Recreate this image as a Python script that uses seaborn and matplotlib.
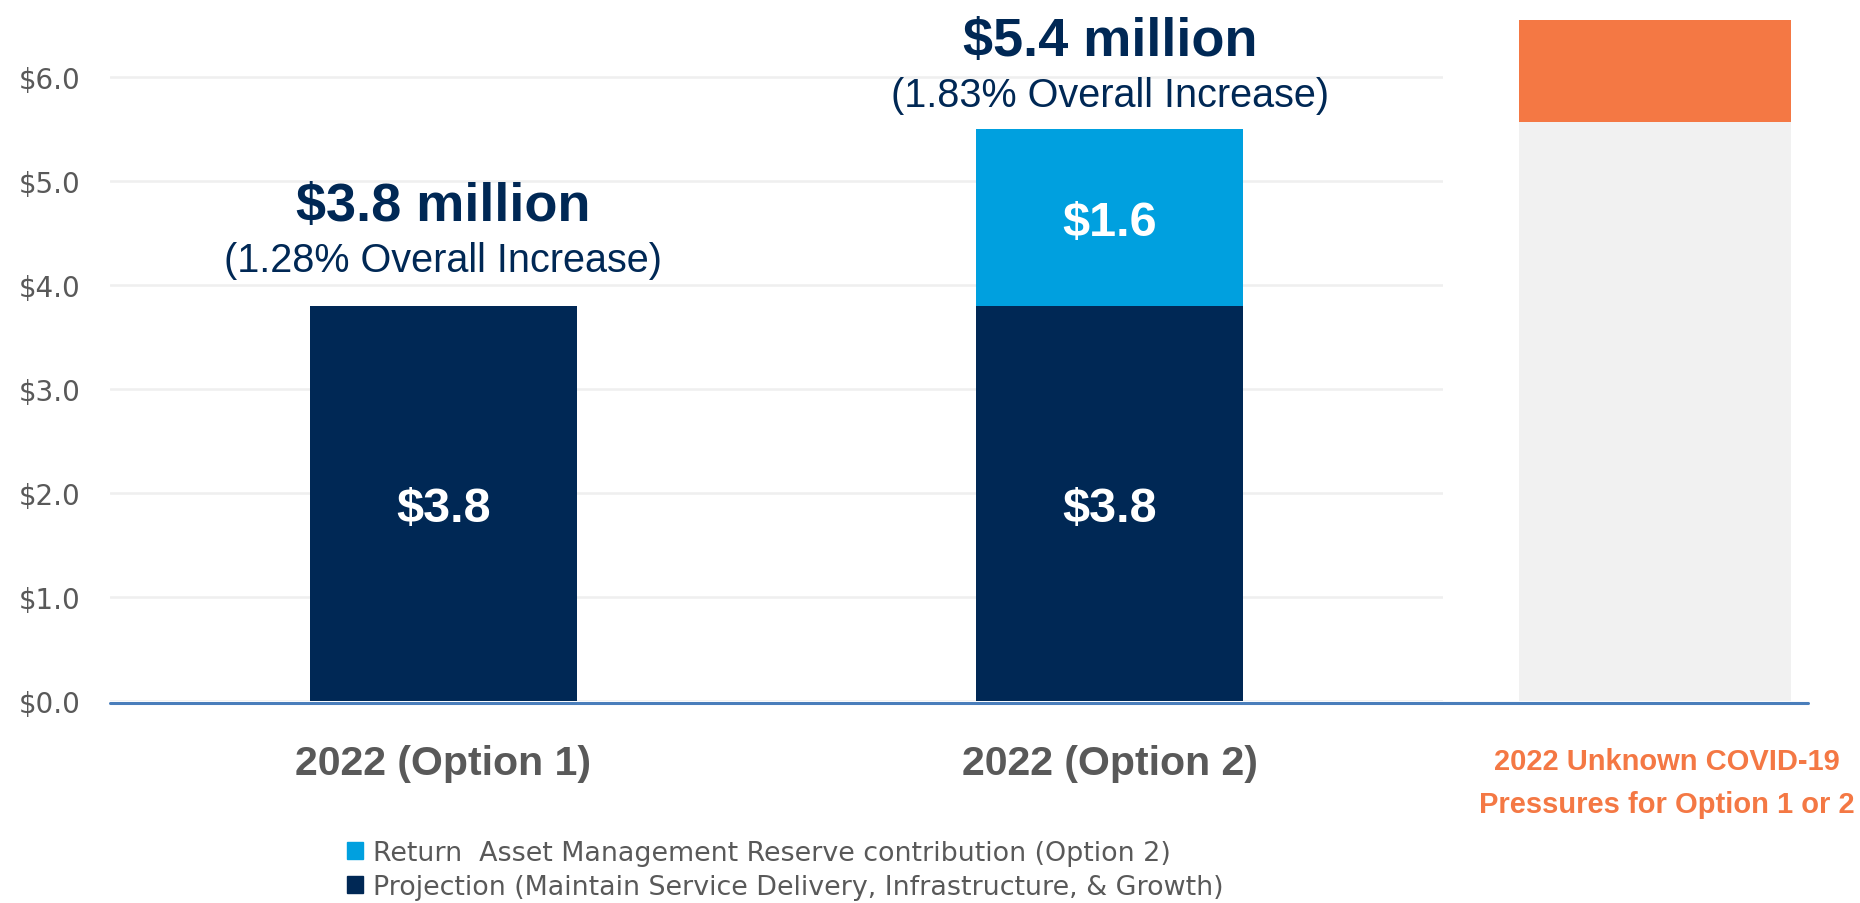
import matplotlib
matplotlib.use('Agg')
import pandas as pd
import matplotlib.pyplot as plt
from matplotlib.patches import Patch
import seaborn as sns

# Данные
options = ['2022 (Option 1)', '2022 (Option 2)']
projection = [3.8, 3.8]
reserve_return = [0.0, 1.7]
projection_labels = ['$3.8', '$3.8']
reserve_labels = ['', '$1.6']
total_titles = ['$3.8 million', '$5.4 million']
increase_titles = ['(1.28% Overall Increase)', '(1.83% Overall Increase)']

covid_category = ['2022 Unknown COVID-19\nPressures for Option 1 or 2']
covid_base = [5.57]
covid_pressure = [0.98]

y_ticks = [0, 1, 2, 3, 4, 5, 6]
legend_labels = ['Return  Asset Management Reserve contribution (Option 2)',
                 'Projection (Maintain Service Delivery, Infrastructure, & Growth)']

# Цвета
navy = '#002855'
light_blue = '#00A0DF'
orange = '#F47844'
pale_grey = '#F1F1F1'
text_grey = '#595959'

sns.set_theme(style='white')
plt.rcParams['font.family'] = ['Liberation Sans', 'DejaVu Sans']

df = pd.DataFrame({'option': options, 'projection': projection, 'reserve': reserve_return})
df['total'] = df['projection'] + df['reserve']
covid = pd.DataFrame({'cat': covid_category, 'base': covid_base, 'pressure': covid_pressure})
covid['total'] = covid['base'] + covid['pressure']

W, H = 1860, 904
fig = plt.figure(figsize=(W / 100, H / 100), dpi=100)
ax1 = fig.add_axes([110 / W, 202 / H, 1333 / W, 697 / H])
ax2 = fig.add_axes([1443 / W, 202 / H, 365 / W, 697 / H])

# Основные столбцы (с накоплением)
sns.barplot(data=df, x='option', y='total', color=light_blue, width=0.4, saturation=1, linewidth=0, ax=ax1)
sns.barplot(data=df, x='option', y='projection', color=navy, width=0.4, saturation=1, linewidth=0, ax=ax1)

# Неизвестные COVID-19 давления
sns.barplot(data=covid, x='cat', y='total', color=orange, width=0.8, saturation=1, linewidth=0, ax=ax2)
sns.barplot(data=covid, x='cat', y='base', color=pale_grey, width=0.8, saturation=1, linewidth=0, ax=ax2)

for ax in (ax1, ax2):
    ax.set_ylim(0, 6.7)
    ax.set_xlabel('')
    ax.set_ylabel('')
    for s in ax.spines.values():
        s.set_visible(False)
    ax.axhline(-0.02, color='#4A7EBB', lw=2.2, clip_on=False, zorder=5)

ax2.set_xlim(-0.624, 0.45)
ax2.set_yticks([])
ax2.set_xticks([])
ax2.text(0.614, -0.117, covid['cat'][0], transform=ax2.transAxes, ha='center', va='center',
         multialignment='center', fontsize=21, fontweight='bold', color=orange, linespacing=1.7)

ax1.set_yticks(y_ticks)
ax1.set_yticklabels([f'${v:.1f}' for v in y_ticks], fontsize=20, color=text_grey, family='DejaVu Sans')
ax1.grid(axis='y', color='#EFEFEF', lw=1.8)
ax1.set_axisbelow(True)
ax1.tick_params(axis='y', length=0, pad=21)
ax1.tick_params(axis='x', length=0, pad=31)
for lab in ax1.get_xticklabels():
    lab.set_fontsize(29.5)
    lab.set_fontweight('bold')
    lab.set_color(text_grey)

# Подписи
title_y = [4.76, 6.34]
sub_y = [4.24, 5.83]
for i, row in df.iterrows():
    ax1.text(i, row['projection'] / 2, projection_labels[i], ha='center', va='center_baseline',
             fontsize=35, fontweight='bold', color='white')
    if reserve_labels[i]:
        ax1.text(i, row['projection'] + row['reserve'] / 2, reserve_labels[i], ha='center',
                 va='center_baseline', fontsize=35, fontweight='bold', color='white')
    ax1.text(i, title_y[i], total_titles[i], ha='center', va='center',
             fontsize=39, fontweight='bold', color=navy)
    ax1.text(i, sub_y[i], increase_titles[i], ha='center', va='center',
             fontsize=28.5, color=navy)

handles = [Patch(color=light_blue, label=legend_labels[0]),
           Patch(color=navy, label=legend_labels[1])]
fig.legend(handles=handles, loc='upper left', bbox_to_anchor=(347 / W, 1 - 841 / H),
           frameon=False, prop={'family': 'DejaVu Sans', 'size': 19.4},
           handlelength=0.6, handleheight=0.6, handletextpad=0.37, labelspacing=0.3,
           labelcolor=text_grey, borderpad=0, borderaxespad=0)

fig.savefig('out.png', dpi=100)
